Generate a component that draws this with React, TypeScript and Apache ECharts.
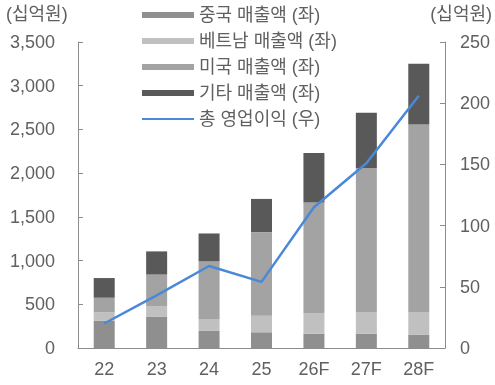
import React, { useEffect, useRef } from "react";
import * as echarts from "echarts";

const categories = ["22", "23", "24", "25", "26F", "27F", "28F"];
const chinaSales = [310, 360, 195, 180, 165, 165, 150];
const vietnamSales = [100, 115, 135, 190, 235, 245, 262];
const usSales = [165, 365, 660, 955, 1265, 1650, 2145];
const otherSales = [225, 265, 320, 380, 565, 630, 695];
const operatingProfit = [20, 43, 67, 54, 115, 151, 206];
const seriesNames = ["중국 매출액 (좌)", "베트남 매출액 (좌)", "미국 매출액 (좌)", "기타 매출액 (좌)", "총 영업이익 (우)"];
const unitLabel = "(십억원)";

const FONT = "'Liberation Sans', 'Noto Sans CJK KR', sans-serif";
const TXT = "#606060";
const AXIS = "#8c8c8c";

export default function App() {
  const ref = useRef<HTMLDivElement>(null);
  useEffect(() => {
    if (!ref.current) return;
    const chart = echarts.init(ref.current, null, { renderer: "svg" });
    const barBase = {
      type: "bar",
      stack: "sales",
      barWidth: 21,
      yAxisIndex: 0,
    };
    chart.setOption({
      animation: false,
      textStyle: { fontFamily: FONT },
      grid: { left: 78, right: 50, top: 42, bottom: 37, containLabel: false },
      legend: {
        orient: "vertical",
        left: 137,
        top: 0,
        itemWidth: 52,
        itemHeight: 6,
        itemGap: 6,
        textStyle: { fontSize: 18, color: TXT, fontFamily: FONT, lineHeight: 20 },
        data: [
          { name: seriesNames[0], icon: "rect" },
          { name: seriesNames[1], icon: "rect" },
          { name: seriesNames[2], icon: "rect" },
          { name: seriesNames[3], icon: "rect" },
          { name: seriesNames[4], icon: "path://M0,0 L52,0 L52,2.2 L0,2.2 Z", itemStyle: { color: "#4a88d8" } },
        ],
      },
      graphic: [
        { type: "text", left: 6, top: 5, style: { text: unitLabel, fontSize: 18, fill: TXT, fontFamily: FONT } },
        { type: "text", right: 3, top: 5, style: { text: unitLabel, fontSize: 18, fill: TXT, fontFamily: FONT } },
      ],
      xAxis: {
        type: "category",
        data: categories,
        axisLine: { lineStyle: { color: AXIS, width: 1 } },
        axisTick: { inside: true, length: 5, lineStyle: { color: AXIS } },
        axisLabel: { fontSize: 18, color: TXT, margin: 12, fontFamily: FONT },
      },
      yAxis: [
        {
          type: "value",
          min: 0,
          max: 3500,
          interval: 500,
          axisLine: { show: true, lineStyle: { color: AXIS } },
          axisTick: { show: true, inside: true, length: 5, lineStyle: { color: AXIS } },
          splitLine: { show: false },
          axisLabel: {
            fontSize: 18,
            color: TXT,
            margin: 23,
            fontFamily: FONT,
            formatter: (v: number) => v.toLocaleString("en-US"),
          },
        },
        {
          type: "value",
          min: 0,
          max: 250,
          interval: 50,
          position: "right",
          axisLine: { show: true, lineStyle: { color: AXIS } },
          axisTick: { show: true, inside: true, length: 5, lineStyle: { color: AXIS } },
          splitLine: { show: false },
          axisLabel: { fontSize: 18, color: TXT, margin: 15, fontFamily: FONT },
        },
      ],
      series: [
        { ...barBase, name: seriesNames[0], data: chinaSales, itemStyle: { color: "#8f8f8f" } },
        { ...barBase, name: seriesNames[1], data: vietnamSales, itemStyle: { color: "#c0c0c0" } },
        { ...barBase, name: seriesNames[2], data: usSales, itemStyle: { color: "#a3a3a3" } },
        { ...barBase, name: seriesNames[3], data: otherSales, itemStyle: { color: "#595959" } },
        {
          type: "line",
          name: seriesNames[4],
          yAxisIndex: 1,
          data: operatingProfit,
          symbol: "none",
          lineStyle: { color: "#4a88d8", width: 2.5 },
          itemStyle: { color: "#4a88d8" },
          z: 5,
        },
      ],
    });
    return () => chart.dispose();
  }, []);
  return <div ref={ref} style={{ position: "fixed", left: 0, top: 0, width: 495, height: 385 }} />;
}
